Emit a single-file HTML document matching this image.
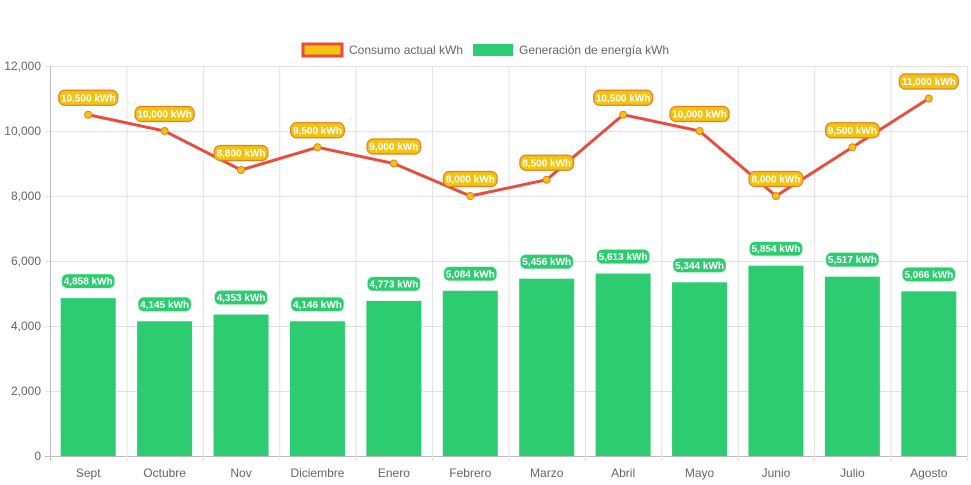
<!DOCTYPE html>
<html><head><meta charset="utf-8"><style>
body{margin:0;background:#fff;font-family:"Liberation Sans",Arial,sans-serif}
svg{display:block}
</style></head><body>
<svg id="chart" width="971" height="485"></svg>
<script>
const categories=["Sept","Octubre","Nov","Diciembre","Enero","Febrero","Marzo","Abril","Mayo","Junio","Julio","Agosto"];
const consumo=[10500,10000,8800,9500,9000,8000,8500,10500,10000,8000,9500,11000];
const generacion=[4858,4145,4353,4146,4773,5084,5456,5613,5344,5854,5517,5066];
const yTicks=[0,2000,4000,6000,8000,10000,12000];
const L=50,R=967,T=66,B=456,YMAX=12000;
const svg=document.getElementById('chart');
const NS='http://www.w3.org/2000/svg';
const cw=(R-L)/categories.length;
const x=i=>L+cw*(i+0.5);
const y=v=>B-(v/YMAX)*(B-T);
function mk(t,a,p){const e=document.createElementNS(NS,t);for(const k in a)e.setAttribute(k,a[k]);(p||svg).appendChild(e);return e;}
const fmt=v=>v.toLocaleString('en-US');
yTicks.forEach(v=>{
 const g=mk('line',{x1:L-5,x2:R,y1:y(v)+.5,y2:y(v)+.5,stroke:v===0?'#bbb':'#e2e2e2'});
 
 
 const t=mk('text',{x:L-9,y:y(v)+4,'text-anchor':'end','font-size':12,fill:'#666'});
 t.textContent=fmt(v);
 
 
});
for(let i=0;i<=categories.length;i++){
 const g=mk('line',{x1:L+cw*i+.5,x2:L+cw*i+.5,y1:T,y2:B+5,stroke:i===0?'#bbb':'#e2e2e2'});
 
 
}
categories.forEach((c,i)=>{
 const t=mk('text',{x:x(i),y:B+21,'text-anchor':'middle','font-size':12,fill:'#666'});
 t.textContent=c;
 
 
});
function pill(cx,cy,txt,fill,stroke,name){
 const w=txt.length*5.3+6;
 const r=mk('rect',{x:cx-w/2,y:cy-7.5,width:w,height:15,rx:6,fill:fill,stroke:stroke,'stroke-width':1.2});
 
 
 const t=mk('text',{x:cx,y:cy+3.5,'text-anchor':'middle','font-size':10,'font-weight':'bold',fill:'#fff'});
 t.textContent=txt;
 
 
}
const bw=55;
generacion.forEach((v,i)=>{
 const b=mk('rect',{x:x(i)-bw/2,y:y(v),width:bw,height:B-y(v),fill:'#2ecc71'});
 
 
});
generacion.forEach((v,i)=>pill(x(i),y(v)-17,fmt(v)+' kWh','#2ecc71','#e8f8ee','bar-value-label'));
const p=mk('polyline',{points:consumo.map((v,i)=>x(i)+','+y(v)).join(' '),fill:'none',stroke:'#e74c3c','stroke-width':3});


consumo.forEach((v,i)=>{
 const c=mk('circle',{cx:x(i),cy:y(v),r:3.5,fill:'#f1c40f',stroke:'#e67e22','stroke-width':1});
 
 
});
consumo.forEach((v,i)=>pill(x(i),y(v)-17,fmt(v)+' kWh','#f1c40f','#e67e22','line-value-label'));
const lg=mk('g',{});


const s1=mk('rect',{x:303,y:44,width:39,height:12,fill:'#f1c40f',stroke:'#e74c3c','stroke-width':3},lg);


const t1=mk('text',{x:349,y:54,'font-size':12,fill:'#666'},lg);
t1.textContent='Consumo actual kWh';


const s2=mk('rect',{x:473,y:44,width:40,height:12,fill:'#2ecc71'},lg);


const t2=mk('text',{x:519,y:54,'font-size':12,fill:'#666'},lg);
t2.textContent='Generación de energía kWh';


</script>
</body></html>
